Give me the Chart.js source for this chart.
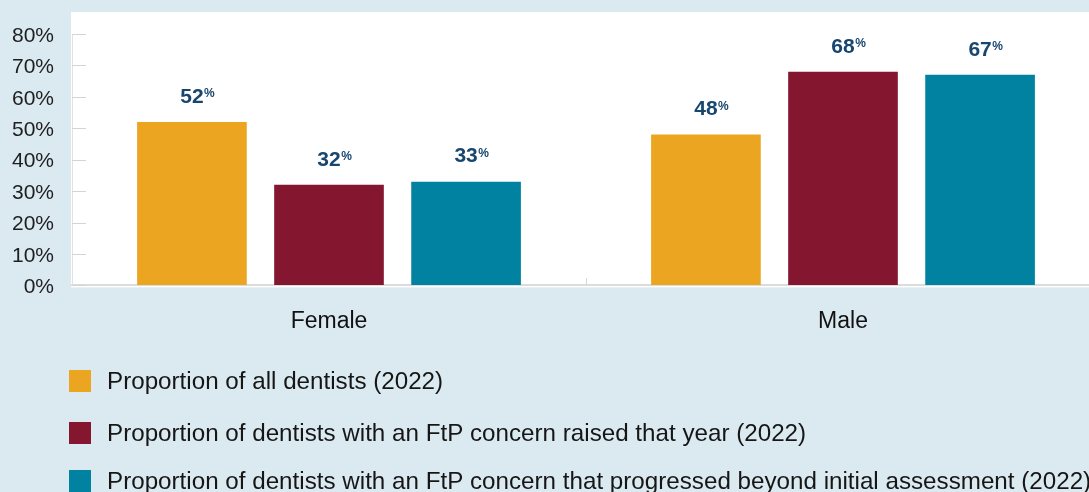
<!DOCTYPE html>
<html>
<head>
<meta charset="utf-8">
<script src="https://cdn.jsdelivr.net/npm/chart.js@4.4.1/dist/chart.umd.min.js"></script>
<style>
    html, body { margin: 0; padding: 0; background: #dbeaf1; overflow: hidden; }
    #wrap { width: 1100px; height: 492px; }
</style>
</head>
<body>
<div id="wrap"><canvas id="genderChart" width="1100" height="492"></canvas></div>
<script>
// datos del gráfico
const categories = ['Female', 'Male'];
const allDentists = [52, 48];
const concernRaised = [32, 68];
const concernProgressed = [33, 67];
const seriesLabels = [
    'Proportion of all dentists (2022)',
    'Proportion of dentists with an FtP concern raised that year (2022)',
    'Proportion of dentists with an FtP concern that progressed beyond initial assessment (2022)'
];
const yMin = 0, yMax = 80, yStep = 10;

const FONT = '"Liberation Sans", Arial, Helvetica, sans-serif';

// panel blanco detrás del área del gráfico
const whitePanel = {
    id: 'whitePanel',
    beforeDraw(chart) {
        const a = chart.chartArea, ctx = chart.ctx;
        ctx.save();
        ctx.fillStyle = '#ffffff';
        ctx.fillRect(a.left - 1, 12, chart.width - a.left + 1, a.bottom + 2 - 12);
        ctx.restore();
    }
};

// marcas cortas dentro del área (eje y y separador de categorías)
const innerTicks = {
    id: 'innerTicks',
    beforeDatasetsDraw(chart) {
        const a = chart.chartArea, ctx = chart.ctx;
        const ys = chart.scales.y, xs = chart.scales.x;
        ctx.save();
        ctx.strokeStyle = '#d4d4d4';
        ctx.lineWidth = 1;
        ys.ticks.forEach(t => {
            const y = Math.round(ys.getPixelForValue(t.value)) + 0.5;
            ctx.beginPath();
            ctx.moveTo(a.left, y);
            ctx.lineTo(a.left + 14, y);
            ctx.stroke();
        });
        const xm = Math.round((xs.getPixelForValue(0) + xs.getPixelForValue(1)) / 2) + 0.5;
        ctx.beginPath();
        ctx.moveTo(xm, a.bottom - 7);
        ctx.lineTo(xm, a.bottom);
        ctx.stroke();
        ctx.restore();
    }
};

// etiquetas de valor con el % en superíndice
const valueLabels = {
    id: 'valueLabels',
    afterDatasetsDraw(chart) {
        const ctx = chart.ctx;
        ctx.save();
        ctx.fillStyle = '#17466e';
        chart.data.datasets.forEach((ds, i) => {
            chart.getDatasetMeta(i).data.forEach((bar, j) => {
                const num = String(ds.data[j]);
                ctx.font = 'bold 21px ' + FONT;
                const w = ctx.measureText(num).width;
                const cy = bar.y - 25;
                ctx.textAlign = 'center';
                ctx.textBaseline = 'middle';
                ctx.fillText(num, bar.x, cy);
                ctx.font = 'bold 12px ' + FONT;
                ctx.textAlign = 'left';
                ctx.textBaseline = 'top';
                ctx.fillText('%', bar.x + w / 2 + 0.5, cy - 9);
            });
        });
        ctx.restore();
    }
};

// leyenda vertical dibujada en el canvas
const listLegend = {
    id: 'listLegend',
    afterDraw(chart) {
        const ctx = chart.ctx;
        const rowTops = [370, 422, 470];
        ctx.save();
        chart.data.datasets.forEach((ds, i) => {
            const top = rowTops[i];
            ctx.fillStyle = ds.backgroundColor;
            ctx.fillRect(69, top, 22, 22);
            ctx.fillStyle = '#161616';
            ctx.font = '24.2px ' + FONT;
            ctx.textAlign = 'left';
            ctx.textBaseline = 'middle';
            ctx.fillText(ds.label, 107, top + 12);
        });
        ctx.restore();
    }
};

var ctx = document.getElementById('genderChart').getContext('2d');
var genderChart = new Chart(ctx, {
    type: 'bar',
    data: {
        labels: categories,
        datasets: [
            { label: seriesLabels[0], data: allDentists, backgroundColor: '#eba521' },
            { label: seriesLabels[1], data: concernRaised, backgroundColor: '#85162f' },
            { label: seriesLabels[2], data: concernProgressed, backgroundColor: '#0082a0' }
        ]
    },
    options: {
        responsive: false,
        animation: false,
        devicePixelRatio: 1,
        layout: { padding: { top: 34, right: 0, bottom: 135, left: 0 } },
        datasets: {
            bar: { barPercentage: 0.8, categoryPercentage: 0.8 }
        },
        plugins: {
            legend: { display: false },
            tooltip: { enabled: false }
        },
        scales: {
            x: {
                grid: { display: false, drawTicks: false },
                border: { display: true, color: '#dcdcdc', width: 2 },
                ticks: {
                    padding: 22,
                    color: '#111111',
                    font: { family: FONT, size: 23 }
                }
            },
            y: {
                min: yMin,
                max: yMax,
                afterFit: function (s) { s.width = 72; },
                grid: { drawOnChartArea: false, drawTicks: false },
                border: { display: true, color: '#e2e2e2', width: 1 },
                ticks: {
                    stepSize: yStep,
                    padding: 18,
                    labelOffset: 2,
                    color: '#1e1e1e',
                    font: { family: FONT, size: 21 },
                    callback: function (v) { return v + '%'; }
                }
            }
        }
    },
    plugins: [whitePanel, innerTicks, valueLabels, listLegend]
});
</script>
</body>
</html>
